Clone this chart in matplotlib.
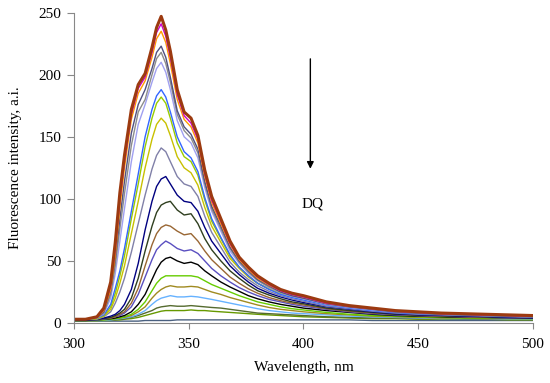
import matplotlib
matplotlib.use("Agg")
import matplotlib.pyplot as plt

wavelength = [300, 305, 310, 313, 316, 318, 320, 322, 325, 328, 331, 334, 336, 338, 340, 342,
              345, 348, 351, 354, 357, 360, 364, 368, 372, 376, 380, 385, 390, 395, 400,
              410, 420, 430, 440, 450, 460, 470, 480, 490, 500]

s01 = [3, 3, 5, 12, 33, 65, 105, 135, 172, 192, 201, 222, 238, 247, 236, 219, 188, 170, 165, 151, 123, 102, 84, 66, 53, 45, 38, 32, 27, 24, 22, 17, 14, 12, 10, 9, 8, 7.5, 7, 6.5, 6]
s02 = [3, 3, 4.5, 11, 30, 60, 99, 130, 168, 189, 198, 218, 234, 241, 231, 214, 184, 167, 161, 148, 120, 99, 82, 64, 52, 44, 37, 31, 26, 23, 21, 16, 13.5, 11.5, 9.5, 8.5, 7.5, 7, 6.5, 6, 5.5]
s03 = [3, 3, 4.5, 10, 27, 55, 93, 125, 164, 185, 195, 214, 229, 235, 226, 209, 180, 164, 158, 145, 118, 97, 80, 63, 51, 43, 36, 30.5, 26, 23, 21, 16, 13.5, 11.5, 9.5, 8.5, 7.5, 7, 6.5, 6, 5.5]
s04 = [3, 3, 4.5, 9, 26, 52, 84, 114, 153, 176, 188, 205, 218, 223, 214, 198, 171, 158, 152, 140, 114, 94, 78, 61, 50, 42, 35, 30, 25, 22, 20, 15.5, 13, 11, 9, 8, 7, 6.5, 6, 5.5, 5]
s05 = [3, 3, 4, 8, 23, 46, 76, 104, 143, 170, 180, 200, 213, 218, 209, 194, 168, 155, 149, 137, 112, 92, 76, 60, 49, 41, 34.5, 29, 25, 22, 20, 15.5, 13, 11, 9, 8, 7, 6.5, 6, 5.5, 5]
s06 = [3, 3, 4, 7.5, 20, 40, 66, 92, 130, 160, 176, 194, 205, 210, 202, 188, 163, 150, 145, 133, 109, 90, 74, 58, 48, 40, 34, 28.5, 24.5, 21.5, 19.5, 15, 12.5, 10.5, 9, 8, 7, 6.5, 6, 5.5, 5]
s07 = [3, 3, 4, 6.5, 15, 28, 42, 60, 90, 120, 150, 172, 183, 188, 182, 170, 150, 138, 133, 122, 101, 84, 69, 55, 45, 38, 32, 27, 23, 20.5, 18.5, 14.5, 12, 10, 8.5, 7.5, 7, 6.5, 6, 5.5, 5]
s08 = [3, 3, 3.5, 6, 13, 24, 38, 54, 84, 112, 142, 165, 177, 182, 177, 165, 145, 134, 130, 119, 99, 82, 68, 54, 45, 38, 32, 27.5, 24, 21.5, 19.5, 15.5, 13, 11, 9.5, 8.5, 7.5, 7, 6.5, 6, 5.5]
s09 = [3, 3, 3.5, 5.5, 11, 20, 32, 46, 72, 98, 125, 148, 160, 165, 161, 151, 134, 125, 121, 111, 93, 78, 65, 52, 44, 37, 32, 27.5, 24, 21.5, 19.5, 15.5, 13, 11, 9.5, 8.5, 7.5, 7, 6.5, 6, 5.5]
s10 = [3, 3, 3, 5, 9, 16, 25, 36, 57, 80, 103, 124, 135, 141, 138, 130, 118, 112, 110, 102, 86, 73, 61, 49, 41, 35, 30, 25.5, 22, 19.5, 17.5, 13.5, 11.5, 9.5, 8, 7, 6.5, 6, 5.5, 5, 4.5]
s11 = [2.5, 2.5, 3, 4, 5.5, 7, 10, 15, 27, 48, 75, 98, 110, 116, 118, 112, 103, 98, 97, 90, 77, 66, 56, 46, 39, 33, 28, 24, 21, 18.5, 16.5, 13, 11, 9, 7.5, 6.5, 6, 5.5, 5, 4.5, 4]
s12 = [2.5, 2.5, 3, 3.5, 4.5, 6, 8, 11, 20, 36, 58, 78, 89, 95, 97, 98, 91, 87, 88, 80, 68, 59, 50, 42, 36, 30.5, 26, 22.5, 19.5, 17, 15.5, 12, 10, 8.5, 7, 6.5, 6, 5.5, 5, 4.5, 4]
s13 = [2.5, 2.5, 3, 3.5, 4, 5, 7, 9, 16, 28, 46, 63, 72, 77, 79, 78, 74, 71, 72, 66, 58, 51, 44, 37, 32, 27.5, 24, 20.5, 18, 16, 14.5, 11.5, 9.5, 8, 7, 6, 5.5, 5, 4.5, 4.5, 4]
s14 = [2.5, 2.5, 2.5, 3, 4, 5, 6, 8, 13, 23, 37, 51, 59, 63, 66, 64, 60, 58, 59, 56, 50, 44, 38, 33, 28.5, 25, 22, 19, 17, 15, 13.5, 11, 9, 7.5, 6.5, 6, 5.5, 5, 4.5, 4, 4]
s15 = [2, 2, 2.5, 3, 3.5, 4, 5, 6, 9, 15, 23, 35, 43, 49, 52, 53, 50, 48, 49, 47, 42, 38, 33, 29, 25.5, 22, 19.5, 17, 15, 13.5, 12, 10, 8.5, 7, 6, 5.5, 5, 4.5, 4.5, 4, 4]
s16 = [2, 2, 2, 2.5, 3, 3.5, 4, 5, 7, 11, 17, 26, 32, 36, 38, 38, 38, 38, 38, 37, 34, 31, 28, 25, 22, 19.5, 17, 15, 13, 11.5, 10.5, 8.5, 7, 6, 5.5, 5, 4.5, 4, 4, 3.5, 3.5]
s17 = [2, 2, 2, 2.5, 3, 3.5, 4, 4.5, 6, 9, 13, 20, 24, 27, 29, 30, 29, 29, 29.5, 29, 27, 25, 23, 20.5, 18.5, 16.5, 14.5, 12.5, 11, 10, 9, 7.5, 6.5, 5.5, 5, 4.5, 4, 4, 3.5, 3.5, 3.5]
s18 = [2, 2, 2, 2, 2.5, 3, 3.5, 4, 5, 7, 10, 15, 18, 20, 21, 22, 21, 21, 21.5, 21, 20, 19, 17.5, 16, 14.5, 13, 11.5, 10, 9, 8, 7.5, 6.5, 5.5, 5, 4.5, 4, 3.5, 3.5, 3.5, 3, 3]
s19 = [2, 2, 2, 2, 2.5, 2.5, 3, 3.5, 4.5, 6, 8, 10, 12, 13, 13.5, 14, 13.5, 13.5, 14, 13.5, 13, 12.5, 12, 11, 10, 9, 8, 7.5, 7, 6.5, 6, 5, 4.5, 4, 4, 3.5, 3.5, 3, 3, 3, 3]
s20 = [2, 2, 2, 2, 2, 2.5, 2.5, 3, 3.5, 4.5, 6, 7.5, 8.5, 9.5, 10, 10, 10, 10, 10.5, 10, 10, 9.5, 9, 8.5, 8, 7.5, 7, 6.5, 6, 5.5, 5, 4.5, 4, 3.5, 3.5, 3, 3, 3, 3, 2.5, 2.5]
s21 = [1.5, 1.5, 1.5, 1.5, 1.5, 1.5, 1.5, 1.5, 1.5, 1.5, 2, 2, 2, 2, 2, 2, 2.5, 2.5, 2.5, 2.5, 2.5, 2.5, 2.5, 2.5, 2.5, 2.5, 2.5, 2.5, 2.5, 2.5, 2.5, 2.5, 2.5, 2, 2, 2, 2, 2, 2, 2, 2]

series = [s21, s20, s19, s18, s17, s16, s15, s14, s13, s12, s11, s10, s09, s08, s07, s06, s05, s04, s03, s02, s01]
colors = ["#4A6080", "#669900", "#556B2F", "#66B2FF", "#A08A20", "#66CC00", "#000000", "#5A4FC0",
          "#996633", "#2F3F1F", "#000080", "#8080A8", "#C8C000", "#99CC00", "#3366FF", "#A0A0F0",
          "#8C8C8C", "#505080", "#FF9900", "#CC00CC", "#9C3A10"]

xticks = [300, 350, 400, 450, 500]
yticks = [0, 50, 100, 150, 200, 250]

plt.rcParams['font.family'] = ['Liberation Serif', 'DejaVu Serif']

fig = plt.figure(figsize=(5.5, 3.83), dpi=100)
ax = fig.add_axes([0.1345, 0.1567, 0.8345, 0.8103])

for i, (s, c) in enumerate(zip(series, colors)):
    lw = 2.2 if i == len(series) - 1 else 1.0
    ax.plot(wavelength, s, color=c, lw=lw, solid_joinstyle='round')

ax.set_xlim(300, 500)
ax.set_ylim(0, 250)
ax.set_xticks(xticks)
ax.set_yticks(yticks)
for side in ['top', 'right']:
    ax.spines[side].set_visible(False)
for side in ['left', 'bottom']:
    ax.spines[side].set_color('#888888')
    ax.spines[side].set_linewidth(0.8)
ax.tick_params(axis='both', direction='out', color='#888888', labelsize=11)
ax.tick_params(axis='x', length=4, pad=7)
ax.tick_params(axis='y', length=5, pad=4)
ax.set_xlabel('Wavelength, nm', fontsize=11, labelpad=7)
ax.set_ylabel('Fluorescence intensity, a.i.', fontsize=11, labelpad=12)

ax.annotate('', xy=(403, 122), xytext=(403, 215),
            arrowprops=dict(arrowstyle='-|>', color='black', lw=1.0, mutation_scale=10))
ax.text(404, 96, 'DQ', ha='center', va='center', fontsize=11)

fig.savefig('out.png', dpi=100)
